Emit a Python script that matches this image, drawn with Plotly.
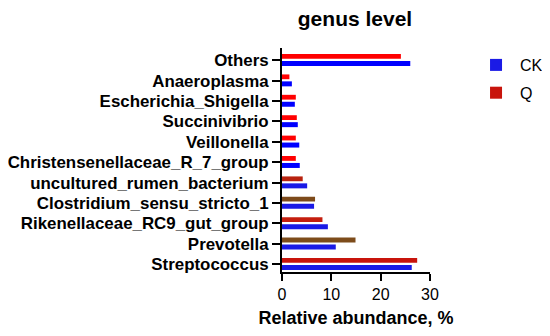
import plotly.graph_objects as go

categories = ["Streptococcus", "Prevotella", "Rikenellaceae_RC9_gut_group",
              "Clostridium_sensu_stricto_1", "uncultured_rumen_bacterium",
              "Christensenellaceae_R_7_group", "Veillonella", "Succinivibrio",
              "Escherichia_Shigella", "Anaeroplasma", "Others"]
ck_values = [26.3, 10.9, 9.3, 6.5, 5.1, 3.6, 3.5, 3.2, 2.6, 2.0, 26.0]
q_values = [27.4, 14.9, 8.2, 6.7, 4.2, 2.8, 2.8, 3.0, 2.8, 1.5, 24.1]
x_ticks = [0, 10, 20, 30]

pos = list(range(len(categories)))

ck_colors = ["#1a1ae6"] * 5 + ["#0000ff"] * 6
q_colors = ["#c8140c", "#7d4c1a", "#c41e0e", "#7d4a1a", "#b8220e"] + ["#ff0000"] * 6

fig = go.Figure()
fig.add_trace(go.Bar(y=pos, x=ck_values, orientation="h", name="CK",
                     legendgroup="ck",
                     marker=dict(color=ck_colors, line=dict(width=0)),
                     width=0.245, offset=-0.28))
fig.add_trace(go.Bar(y=pos, x=q_values, orientation="h", name="Q",
                     legendgroup="q",
                     marker=dict(color=q_colors, line=dict(width=0)),
                     width=0.235, offset=0.07))

FONT = "Liberation Sans, Arial, sans-serif"

fig.update_layout(
    width=550, height=336,
    margin=dict(l=274, r=128, t=40, b=72, autoexpand=False),
    paper_bgcolor="white", plot_bgcolor="white",
    font=dict(family=FONT, color="black"),
    title=dict(text="<b>genus level</b>", x=347 / 550, xanchor="center",
               y=1 - 11 / 336, yanchor="middle", font=dict(size=21)),
    barmode="overlay",
    showlegend=True,
    legend=dict(x=1.284, xanchor="left", y=1.0, yanchor="top",
                font=dict(size=16), itemwidth=38, tracegroupgap=4,
                bgcolor="rgba(0,0,0,0)"),
    xaxis=dict(range=[0, 30], tickvals=x_ticks, ticks="outside", ticklen=7,
               tickwidth=2, tickcolor="black", showline=True, linewidth=2,
               linecolor="black", showgrid=False, zeroline=False,
               automargin=False,
               tickfont=dict(size=16, family=FONT),
               tickprefix="<b>", ticksuffix="</b>",
               title=dict(text="<b>Relative abundance, %</b>", font=dict(size=18),
                          standoff=9)),
    yaxis=dict(range=[-0.38, 10.6], tickvals=pos, ticktext=["<b>%s</b>" % c for c in categories],
               ticks="outside", ticklen=8, tickwidth=2, tickcolor="black",
               showline=True, linewidth=2, linecolor="black", showgrid=False,
               zeroline=False, automargin=False, tickfont=dict(size=16.9)),
)

fig.write_html("out.html")
